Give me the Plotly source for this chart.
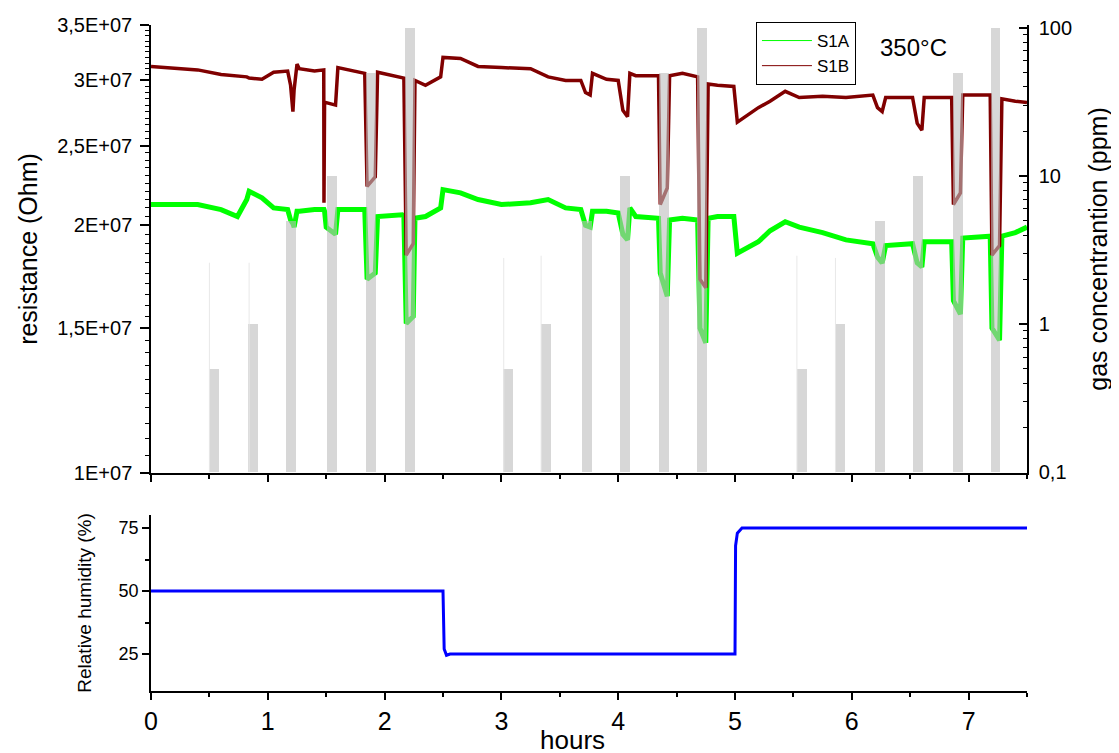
import plotly.graph_objects as go

# time axis (hours) for the resistance traces
t_res = [0.00, 0.40, 0.60, 0.74, 0.82, 0.84, 0.95, 1.05, 1.17, 1.195,
         1.215, 1.225, 1.25, 1.27, 1.40, 1.479, 1.481, 1.486, 1.50, 1.58,
         1.60, 1.80, 1.83, 1.85, 1.92, 1.94, 2.15, 2.165, 2.185, 2.245,
         2.26, 2.35, 2.48, 2.50, 2.65, 2.80, 3.00, 3.25, 3.40, 3.55,
         3.68, 3.72, 3.76, 3.78, 3.90, 4.00, 4.04, 4.08, 4.10, 4.15,
         4.345, 4.36, 4.42, 4.44, 4.55, 4.68, 4.70, 4.75, 4.77, 4.85,
         4.99, 5.02, 5.20, 5.30, 5.43, 5.55, 5.75, 5.95, 6.18, 6.22,
         6.26, 6.29, 6.52, 6.56, 6.60, 6.62, 6.855, 6.87, 6.93, 6.95,
         7.185, 7.20, 7.265, 7.285, 7.40, 7.50]

# resistance in MOhm
s1a = [21.2, 21.2, 20.9, 20.5, 21.5, 22.0, 21.6, 21.0, 20.9, 20.3,
       20.1, 19.9, 20.8, 20.8, 20.9, 20.9, 20.9, 20.8, 19.9, 19.5,
       20.9, 20.9, 20.9, 17.2, 17.5, 20.5, 20.6, 20.5, 15.2, 15.5,
       20.4, 20.5, 21.0, 22.1, 21.9, 21.5, 21.2, 21.3, 21.5, 21.0,
       20.9, 20.0, 19.9, 20.8, 20.8, 20.7, 19.5, 19.2, 21.0, 20.5,
       20.4, 17.5, 16.4, 20.3, 20.4, 20.3, 15.0, 14.4, 20.4, 20.5,
       20.5, 18.5, 19.1, 19.7, 20.2, 19.9, 19.6, 19.2, 19.0, 18.3,
       18.0, 18.9, 19.0, 18.0, 17.8, 19.1, 19.1, 16.2, 15.6, 19.3,
       19.4, 15.0, 14.5, 19.4, 19.6, 19.9]

s1b = [31.2, 30.9, 30.5, 30.4, 30.3, 30.2, 30.1, 30.7, 30.8, 29.6,
       27.5, 29.2, 31.4, 31.0, 30.8, 30.9, 21.3, 28.1, 28.2, 28.0,
       31.1, 30.7, 30.6, 22.3, 22.9, 30.7, 30.2, 30.2, 18.4, 19.0,
       30.0, 29.6, 30.3, 32.0, 31.9, 31.2, 31.1, 31.0, 30.3, 30.0,
       30.0, 29.0, 28.8, 30.6, 30.1, 30.0, 27.6, 27.1, 30.6, 30.4,
       30.4, 21.2, 22.2, 30.4, 30.6, 30.3, 17.2, 16.8, 29.7, 29.6,
       29.5, 26.7, 27.8, 28.3, 29.1, 28.6, 28.7, 28.6, 28.8, 27.8,
       27.5, 28.6, 28.6, 26.6, 26.1, 28.6, 28.6, 21.2, 21.9, 28.8,
       28.8, 18.4, 18.9, 28.5, 28.3, 28.2]

# gas pulses
gas_t = [0.54, 0.87, 1.20, 1.55, 1.88, 2.22,
         3.06, 3.38, 3.73, 4.06, 4.39, 4.72,
         5.57, 5.90, 6.24, 6.57, 6.91, 7.23]
gas_ppm = [0.5, 1, 5, 10, 50, 100,
           0.5, 1, 5, 10, 50, 100,
           0.5, 1, 5, 10, 50, 100]

# short overshoots at the start of the low pulses
spike_t = [0.50, 0.84, 3.02, 3.34, 5.53, 5.86]
spike_ppm = [2.6, 2.6, 2.8, 2.9, 2.9, 2.8]

# relative humidity
rh_t = [0.0, 2.50, 2.51, 2.53, 2.56, 5.00, 5.005, 5.02, 5.06, 7.5]
rh = [50, 50, 27, 24.5, 25, 25, 68, 73, 75, 75]

FONT = "Liberation Sans, Arial, sans-serif"
GREEN = "rgb(0,255,0)"
DARKRED = "rgb(128,0,0)"

fig = go.Figure()

fig.add_trace(go.Scatter(x=t_res, y=[v * 1e6 for v in s1a], mode="lines",
                         line=dict(color=GREEN, width=5), showlegend=False,
                         xaxis="x", yaxis="y"))
fig.add_trace(go.Scatter(x=t_res, y=[v * 1e6 for v in s1b], mode="lines",
                         line=dict(color=DARKRED, width=3.5), showlegend=False,
                         xaxis="x", yaxis="y"))

# gas bars on the right log axis, starting at the bottom of the axis
fig.add_trace(go.Bar(x=gas_t, y=[c - 0.1 for c in gas_ppm], base=0.1,
                     width=0.085, marker=dict(color="rgb(190,190,190)", line=dict(width=0)),
                     opacity=0.6, showlegend=False, xaxis="x", yaxis="y2"))

sx, sy = [], []
for t, p in zip(spike_t, spike_ppm):
    sx += [t, t, None]
    sy += [0.1, p, None]
fig.add_trace(go.Scatter(x=sx, y=sy, mode="lines",
                         line=dict(color="rgb(232,232,232)", width=1),
                         showlegend=False, xaxis="x", yaxis="y2"))

# legend entries with thin lines
fig.add_trace(go.Scatter(x=[None], y=[None], mode="lines", name="S1A",
                         line=dict(color=GREEN, width=1), xaxis="x", yaxis="y"))
fig.add_trace(go.Scatter(x=[None], y=[None], mode="lines", name="S1B",
                         line=dict(color=DARKRED, width=1), xaxis="x", yaxis="y"))

fig.add_trace(go.Scatter(x=rh_t, y=rh, mode="lines", line=dict(color="rgb(0,0,255)", width=3),
                         showlegend=False, xaxis="x2", yaxis="y3"))

left_vals = [1e7, 1.5e7, 2e7, 2.5e7, 3e7, 3.5e7]
left_text = ["1E+07", "1,5E+07", "2E+07", "2,5E+07", "3E+07", "3,5E+07"]
left_minor = [1e7 + k * 5e5 for k in range(1, 50) if k % 10 != 0]
right_minor = [m * d for d in (0.1, 1, 10) for m in range(2, 10)]

axis_common = dict(showline=True, linecolor="black", linewidth=1.5, showgrid=False,
                   zeroline=False, tickcolor="black", tickwidth=1.5, automargin=False)

# page body adds an 8px offset, so margins are shifted to keep the plot box in place
fig.update_layout(
    width=1119, height=753,
    margin=dict(l=143, r=100, t=17, b=70),
    paper_bgcolor="white", plot_bgcolor="white",
    font=dict(family=FONT, color="black"),
    bargap=0,
    xaxis=dict(domain=[0, 1], range=[0, 7.5], anchor="y", showticklabels=False,
               ticks="outside", dtick=1, tick0=0, ticklen=7,
               minor=dict(dtick=0.5, tick0=0, ticks="outside", ticklen=4,
                          tickcolor="black", tickwidth=1.5),
               **axis_common),
    yaxis=dict(domain=[0.3273, 1], type="log", range=[7, 7.5445], anchor="x",
               tickmode="array", tickvals=left_vals, ticktext=left_text,
               ticks="outside", ticklen=9, tickfont=dict(size=20), ticklabelstandoff=4,
               minor=dict(tickvals=left_minor, ticks="outside", ticklen=4,
                          tickcolor="black", tickwidth=1),
               title=dict(text="resistance (Ohm)", font=dict(size=25), standoff=12),
               **axis_common),
    yaxis2=dict(type="log", range=[-1.005, 2.02], overlaying="y", side="right",
                anchor="x", tickmode="array", tickvals=[0.1, 1, 10, 100],
                ticktext=["0,1", "1", "10", "100"], ticks="inside", ticklen=8,
                tickfont=dict(size=20), ticklabelstandoff=6,
                minor=dict(tickvals=right_minor, ticks="inside", ticklen=4,
                           tickcolor="black", tickwidth=1),
                title=dict(text="gas concentrantion (ppm)", font=dict(size=25), standoff=18),
                **axis_common),
    xaxis2=dict(domain=[0, 1], range=[0, 7.5], anchor="y3", ticks="outside",
                dtick=1, tick0=0, ticklen=7, tickfont=dict(size=25),
                minor=dict(dtick=0.5, tick0=0, ticks="outside", ticklen=4,
                           tickcolor="black", tickwidth=1.5),
                **axis_common),
    yaxis3=dict(domain=[0, 0.2643], range=[10.3, 80.2], anchor="x2",
                tickmode="array", tickvals=[25, 50, 75], ticks="outside", ticklen=7,
                tickfont=dict(size=18),
                minor=dict(tickvals=[37.5, 62.5], ticks="outside", ticklen=4,
                           tickcolor="black", tickwidth=1.5),
                title=dict(text="Relative humidity (%)", font=dict(size=19), standoff=22),
                **axis_common),
    legend=dict(x=0.6906, y=1.0045, xanchor="left", yanchor="top",
                bgcolor="white", bordercolor="black", borderwidth=1,
                font=dict(size=17), tracegroupgap=0, itemwidth=50),
    annotations=[
        dict(text="350°C", x=0.870, y=0.9655, xref="paper", yref="paper",
             showarrow=False, font=dict(size=24), xanchor="center", yanchor="middle"),
        dict(text="hours", x=0.4806, y=-0.0736, xref="paper", yref="paper",
             showarrow=False, font=dict(size=26), xanchor="center", yanchor="middle"),
    ],
)

fig.write_html("out.html")
